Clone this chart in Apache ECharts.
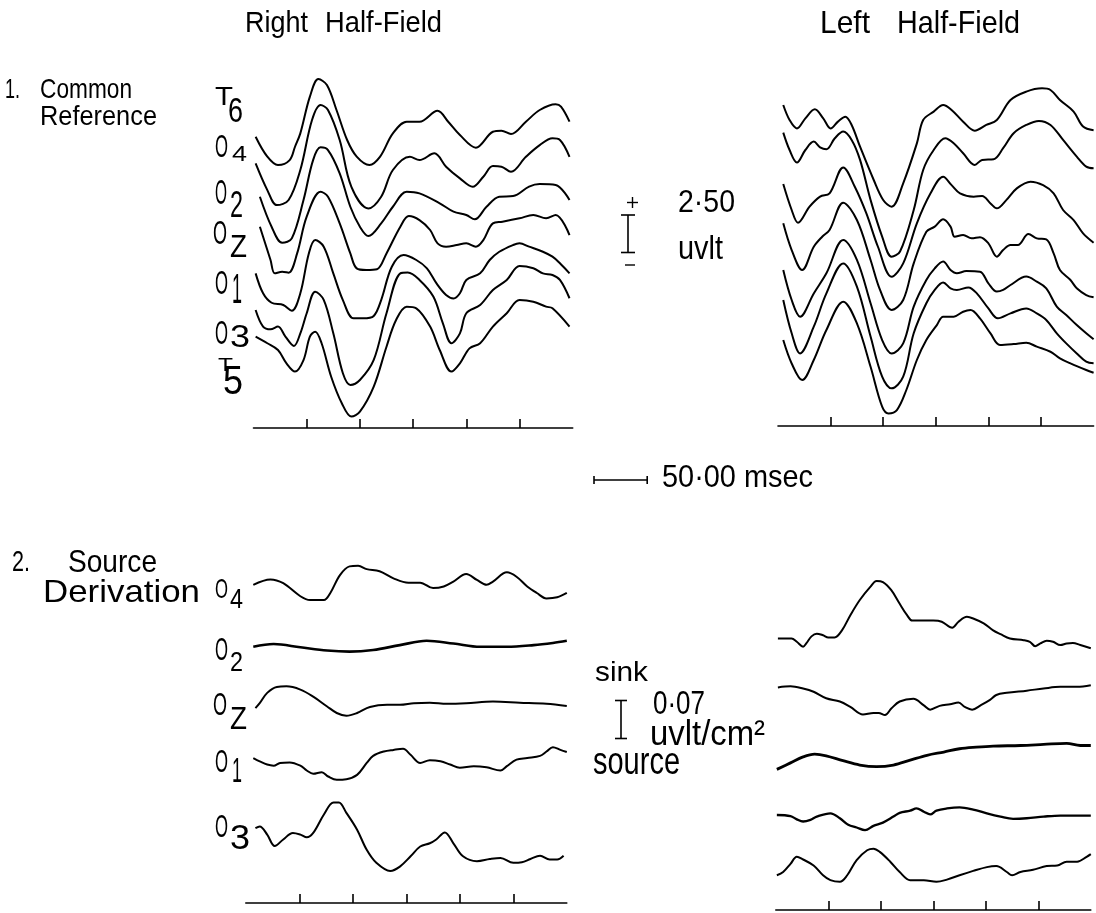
<!DOCTYPE html>
<html><head><meta charset="utf-8">
<script src="https://cdn.jsdelivr.net/npm/echarts@6/dist/echarts.min.js"></script>
<style>html,body{margin:0;padding:0;background:#fff}#c{width:1096px;height:913px}</style>
</head><body><div id="c"></div>
<script>
// ================= DATA =================
const tickTimesMs = [50, 100, 150, 200, 250];
const timeRangeMs = [0, 300];
const ampScaleUV = 2.5;        // µV scale bar
const timeScaleMs = 50;        // ms scale bar
const csdScale = 0.07;         // µV/cm² scale bar
const channelsCommon = ['T6', 'O4', 'O2', 'OZ', 'O1', 'O3', 'T5'];
const channelsSource = ['O4', 'O2', 'OZ', 'O1', 'O3'];

// Right half-field, common reference: [ms, µV]
const rC_T6 = [[2,0],[13,-1.33],[23,-1.89],[34,-1.56],[39,-0.67],[44,0.22],[53,2.67],[61,3.84],[69,3.44],[78,1.78],[88,-0.22],[97,-1.33],[109,-1.89],[119,-1.33],[131,0.22],[144,1.0],[156,1.0],[173,1.73],[183,1.0],[194,0.11],[209,-0.73],[225,0.33],[233,0.4],[242,0.18],[256,1.0],[269,1.78],[284,2.16],[289,2.0],[297,1.0]];
const rC_O4 = [[2,0],[13,-1.78],[22,-2.78],[33,-2.44],[44,-0.44],[55,2.89],[63,3.89],[70,3.56],[81,1.56],[92,-1.56],[108,-3.0],[120,-2.22],[131,-0.44],[147,0.44],[156,0.22],[170,0.67],[181,-0.22],[194,-1.0],[206,-1.56],[216,-0.89],[225,-0.18],[233,-0.22],[242,-0.56],[256,0.44],[269,1.22],[281,1.67],[288,1.56],[297,0.44]];
const rC_O2 = [[6,0],[17,-2.0],[27,-3.07],[36,-2.78],[47,-0.22],[56,2.44],[63,3.29],[70,3.11],[81,1.56],[91,-0.67],[100,-2.0],[108,-2.62],[120,-1.78],[131,-0.67],[144,0.33],[156,0.22],[175,-0.44],[188,-1.0],[200,-1.22],[208,-1.51],[219,-0.67],[231,0],[244,0.04],[259,0.67],[269,0.84],[284,0.78],[297,-0.22]];
const rC_OZ = [[6,0],[16,-2.22],[20,-3.11],[27,-3.0],[33,-3.07],[41,-1.78],[50,0.67],[63,2.33],[70,2.0],[81,0.22],[91,-1.78],[97,-2.78],[106,-2.89],[116,-2.84],[125,-1.78],[138,0],[146,0.71],[156,0.44],[166,-0.22],[173,-1.11],[181,-1.33],[191,-1.22],[200,-1.11],[209,-1.33],[216,-0.89],[225,0.22],[234,0.33],[250,0.56],[263,0.78],[275,0.56],[284,0.78],[297,-0.56]];
const rC_O1 = [[2,0],[9,-1.33],[17,-1.96],[28,-2.11],[36,-2.49],[44,-1.33],[52,1.33],[58,2.22],[66,1.78],[75,0],[84,-1.78],[94,-3.0],[103,-3.0],[113,-2.84],[120,-1.78],[130,0.44],[141,1.22],[153,0.89],[163,0.33],[172,-0.67],[181,-1.44],[188,-1.67],[194,-1.33],[200,-0.44],[213,0],[222,0.89],[231,1.44],[244,1.89],[250,2.0],[259,1.78],[272,1.44],[281,1.11],[288,0.67],[297,0]];
const rC_O3 = [[2,0],[9,-1.11],[16,-1.29],[23,-1.11],[30,-1.78],[38,-2.4],[44,-1.56],[50,-0.22],[58,1.22],[66,0.67],[75,-1.56],[84,-4.22],[91,-5.0],[100,-4.67],[113,-3.33],[125,-0.22],[138,2.44],[145,2.49],[156,2.0],[169,0.89],[178,-0.89],[186,-2.22],[194,-1.56],[200,-0.22],[213,0.33],[225,1.33],[238,2.0],[250,2.93],[263,2.78],[272,2.44],[281,2.33],[288,2.0],[297,0.78]];
const rC_T5 = [[2,0],[13,-0.44],[23,-0.89],[31,-1.78],[39,-2.33],[47,-1.56],[53,0],[58,0.33],[64,-0.44],[73,-2.67],[83,-4.44],[92,-5.33],[100,-5.0],[113,-3.33],[125,-0.67],[134,1.11],[144,2.0],[153,1.89],[166,0.67],[175,-0.89],[186,-2.33],[194,-1.78],[203,-0.78],[213,-0.44],[225,0.67],[238,1.56],[250,2.44],[263,2.33],[275,2.0],[281,1.89],[297,0.67]];

// Left half-field, common reference: [ms, µV] (same channel order)
const lC_T6 = [[5,0],[11,-1.0],[18,-1.56],[26,-0.89],[35,-0.29],[43,-0.89],[50,-1.56],[57,-1.11],[64,-0.78],[70,-1.33],[78,-2.78],[91,-5.0],[100,-6.33],[108,-6.78],[119,-5.22],[132,-2.56],[138,-1.0],[148,-0.44],[157,0],[165,-0.33],[176,-1.11],[187,-1.71],[198,-1.33],[208,-1.0],[221,0.33],[236,0.89],[251,1.11],[259,1.0],[268,0.33],[281,-0.44],[290,-1.44],[300,-1.69]];
const lC_O4 = [[5,0],[11,-1.16],[18,-2.0],[26,-1.16],[34,-0.6],[40,-0.98],[46,-1.11],[54,-0.38],[62,0.07],[70,-0.49],[78,-1.82],[88,-4.49],[99,-6.93],[108,-8.27],[116,-7.93],[129,-5.16],[138,-2.49],[148,-1.16],[159,-0.38],[167,-0.71],[176,-1.38],[187,-2.16],[194,-1.82],[205,-1.78],[214,-1.04],[224,-0.04],[236,0.51],[248,0.78],[259,0.51],[271,-0.49],[284,-1.6],[293,-2.27],[300,-2.38]];
const lC_O2 = [[5,0],[13,-1.73],[19,-2.58],[30,-1.51],[40,-0.84],[49,-0.62],[62,1.11],[73,-0.18],[84,-1.96],[95,-4.18],[108,-6.18],[119,-5.29],[132,-2.62],[145,-0.62],[157,0.49],[165,-0.07],[173,-0.62],[186,-0.84],[194,-0.8],[202,-1.29],[208,-1.62],[217,-1.07],[227,-0.29],[240,0.16],[252,-0.07],[262,-0.62],[271,-1.73],[281,-2.4],[290,-3.29],[300,-3.91]];
const lC_OZ = [[5,0],[13,-1.78],[23,-3.11],[34,-1.56],[42,-0.89],[49,-0.44],[62,1.38],[75,0.22],[88,-2.44],[97,-4.44],[108,-5.78],[119,-5.11],[129,-2.67],[141,-0.56],[149,-0.22],[157,0.27],[164,-0.22],[168,-0.89],[176,-0.78],[184,-1.0],[192,-0.93],[200,-1.33],[208,-2.22],[214,-1.78],[221,-1.44],[228,-1.44],[238,-0.71],[246,-1.0],[255,-1.07],[262,-2.0],[268,-3.11],[278,-3.78],[284,-4.33],[293,-4.78],[300,-4.93]];
const lC_O1 = [[5,0],[13,-2.0],[21,-3.11],[34,-1.56],[46,-0.22],[62,2.0],[75,0.67],[88,-2.22],[99,-4.67],[108,-5.56],[119,-4.89],[129,-2.44],[141,-0.67],[149,0.11],[157,0.56],[164,0],[170,-0.22],[179,-0.07],[192,-0.11],[200,-0.89],[208,-1.44],[214,-1.33],[221,-1.0],[236,-0.44],[246,-0.78],[255,-1.22],[265,-2.44],[274,-3.0],[284,-3.67],[293,-4.22],[300,-4.62]];
const lC_O3 = [[5,0],[13,-2.22],[21,-3.56],[34,-1.78],[46,0.44],[62,2.44],[75,0.89],[88,-2.44],[99,-5.11],[108,-5.89],[119,-5.11],[129,-2.22],[141,-0.22],[149,0.67],[157,1.16],[164,0.78],[170,0.67],[181,0.84],[189,0.44],[200,-0.56],[209,-1.22],[221,-0.89],[236,-0.56],[246,-0.89],[255,-1.33],[265,-2.22],[274,-2.89],[284,-3.56],[293,-4.11],[300,-4.22]];
const lC_T5 = [[5,0],[13,-1.56],[23,-2.67],[34,-1.33],[46,0.67],[62,2.56],[75,1.11],[88,-1.78],[99,-4.44],[105,-4.89],[113,-4.67],[122,-3.33],[132,-1.33],[141,0],[151,1.0],[157,1.56],[167,1.56],[176,1.89],[183,2.0],[192,1.44],[202,0.44],[211,-0.33],[224,-0.27],[236,-0.18],[246,-0.44],[259,-0.78],[268,-1.22],[278,-1.56],[293,-2.0],[300,-2.18]];

// Right half-field, source derivation: [ms, µV/cm²]
const rS_O4 = [[7,0],[23,0.010],[35,0.003],[51,-0.021],[60,-0.028],[73,-0.028],[79,-0.015],[88,0.018],[97,0.034],[105,0.035],[113,0.029],[125,0.025],[138,0.012],[152,0.004],[163,0.004],[175,-0.006],[185,-0.003],[194,0.006],[206,0.020],[216,0.009],[225,0],[231,0.006],[244,0.023],[253,0.015],[263,-0.003],[272,-0.015],[281,-0.025],[291,-0.023],[300,-0.015]];
const rS_O2 = [[7,0],[26,0.005],[51,-0.001],[76,-0.007],[97,-0.009],[119,-0.006],[144,0.003],[169,0.011],[194,0.006],[219,0],[244,0],[269,0.003],[287,0.007],[300,0.011]];
const rS_OZ = [[9,0],[13,0.009],[20,0.028],[29,0.039],[38,0.040],[51,0.034],[63,0.021],[76,0.003],[85,-0.009],[94,-0.014],[104,-0.009],[116,0.002],[132,0.006],[144,0.006],[157,0.009],[172,0.010],[188,0.008],[206,0.009],[231,0.012],[256,0.010],[281,0.008],[300,0.004]];
const rS_O1 = [[7,0],[13,-0.006],[20,-0.012],[26,-0.014],[32,-0.009],[41,-0.008],[51,-0.014],[57,-0.023],[63,-0.029],[71,-0.026],[77,-0.034],[85,-0.040],[94,-0.039],[104,-0.031],[113,-0.009],[119,0.004],[129,0.012],[138,0.015],[147,0.017],[154,0.006],[163,-0.009],[172,-0.004],[182,-0.006],[191,-0.012],[200,-0.018],[213,-0.015],[225,-0.017],[238,-0.023],[244,-0.015],[253,-0.003],[263,0],[275,0.004],[281,0.012],[287,0.020],[294,0.015],[300,0.011]];
const rS_O3 = [[9,0],[13,0.003],[20,-0.012],[27,-0.033],[35,-0.021],[44,-0.009],[51,-0.012],[57,-0.017],[63,-0.009],[73,0.025],[82,0.047],[87,0.047],[94,0.028],[104,-0.003],[113,-0.040],[122,-0.064],[135,-0.079],[144,-0.071],[154,-0.052],[163,-0.034],[172,-0.028],[178,-0.021],[186,-0.008],[194,-0.028],[203,-0.052],[216,-0.061],[228,-0.057],[238,-0.055],[250,-0.064],[258,-0.063],[266,-0.057],[275,-0.051],[284,-0.058],[291,-0.058],[297,-0.051]];

// Left half-field, source derivation: [ms, µV/cm²]
const lS_O4 = [[2,0],[15,0],[20,-0.006],[26,-0.015],[29,-0.009],[34,0.004],[39,0.009],[45,0.006],[50,0.002],[56,0.002],[63,0.015],[71,0.043],[80,0.071],[90,0.095],[96,0.106],[102,0.104],[110,0.089],[118,0.064],[125,0.043],[130,0.033],[141,0.033],[150,0.033],[158,0.031],[168,0.020],[174,0.031],[182,0.040],[188,0.037],[198,0.028],[207,0.015],[214,0.008],[223,0],[236,-0.003],[242,-0.006],[247,-0.014],[252,-0.009],[258,-0.004],[264,-0.006],[271,-0.012],[277,-0.009],[283,-0.008],[290,-0.012],[300,-0.018]];
const lS_O2 = [[2,0],[14,0.002],[26,-0.002],[36,-0.008],[48,-0.020],[61,-0.026],[71,-0.036],[83,-0.050],[93,-0.047],[98,-0.047],[104,-0.051],[110,-0.039],[118,-0.026],[131,-0.021],[141,-0.033],[147,-0.041],[156,-0.034],[166,-0.031],[174,-0.028],[180,-0.036],[187,-0.041],[195,-0.033],[204,-0.023],[210,-0.014],[220,-0.010],[239,-0.006],[255,-0.002],[271,0.001],[287,0.001],[300,0.004]];
const lS_OZ = [[1,-0.023],[14,-0.011],[26,0],[37,0.005],[48,0.002],[64,-0.007],[80,-0.015],[96,-0.018],[112,-0.015],[128,-0.006],[144,0.003],[160,0.009],[175,0.015],[191,0.018],[207,0.020],[233,0.021],[255,0.023],[277,0.025],[290,0.021],[300,0.021]];
const lS_O1 = [[1,0],[14,-0.002],[20,-0.008],[26,-0.012],[33,-0.009],[39,-0.003],[52,0.003],[61,-0.006],[69,-0.018],[77,-0.023],[85,-0.028],[93,-0.020],[102,-0.014],[112,-0.003],[118,0.004],[128,0.008],[134,0.012],[141,0.006],[147,0.001],[153,0.008],[163,0.012],[175,0.014],[188,0.010],[201,0.003],[214,-0.003],[226,-0.007],[239,-0.006],[255,-0.003],[271,-0.001],[300,-0.001]];
const lS_O3 = [[1,0],[7,0.006],[14,0.021],[20,0.034],[26,0.029],[36,0.018],[45,0],[52,-0.009],[61,-0.012],[68,0],[77,0.028],[87,0.046],[93,0.049],[99,0.043],[109,0.025],[118,0.006],[128,-0.009],[141,-0.009],[153,-0.012],[163,-0.008],[175,0],[188,0.008],[201,0.015],[210,0.017],[220,0.006],[225,0],[233,0.006],[245,0.010],[258,0.017],[268,0.018],[277,0.025],[287,0.025],[296,0.034],[300,0.039]];

// ================= LAYOUT (display stacking / geometry) =================
const stackRC = [19.42, 17.64, 15.42, 13.42, 10.31, 7.87, 6.09];
const stackLC = [21.4, 19.56, 16.13, 13.51, 10.4, 8.4, 5.73];
const stackRS = [0.586, 0.472, 0.359, 0.267, 0.138];
const stackLS = [0.500, 0.410, 0.282, 0.175, 0.064];
const yMaxCommon = 25, yMaxSource = 0.65;

const grids = [
  {left: 253.5, top: 53, width: 319.2, height: 375},
  {left: 778, top: 51, width: 315.6, height: 375},
  {left: 245.8, top: 550.1, width: 321, height: 352.9},
  {left: 775.8, top: 557.1, width: 315, height: 352.9}
];

const FONT = '"Liberation Sans", Arial, sans-serif';
const INK = '#000';

function xAxisFor(i) {
  return {
    type: 'value', gridIndex: i, min: timeRangeMs[0], max: timeRangeMs[1],
    axisLine: {show: true, onZero: false, lineStyle: {color: INK, width: 1.6}},
    axisTick: {show: true, inside: true, length: 9, customValues: tickTimesMs, lineStyle: {color: INK, width: 1.6}},
    axisLabel: {show: false}, splitLine: {show: false}
  };
}
function yAxisFor(i, max) {
  return {type: 'value', gridIndex: i, min: 0, max: max, show: false, splitLine: {show: false}};
}
function traces(list, offsets, idx, widths) {
  return list.map((d, i) => ({
    type: 'line', xAxisIndex: idx, yAxisIndex: idx,
    data: d.map(p => [p[0], p[1] + offsets[i]]),
    showSymbol: false, symbol: 'none', smooth: 0.35, silent: true, clip: false,
    lineStyle: {color: INK, width: widths ? widths[i] : 2}
  }));
}

const series = [].concat(
  traces([rC_T6, rC_O4, rC_O2, rC_OZ, rC_O1, rC_O3, rC_T5], stackRC, 0),
  traces([lC_T6, lC_O4, lC_O2, lC_OZ, lC_O1, lC_O3, lC_T5], stackLC, 1),
  traces([rS_O4, rS_O2, rS_OZ, rS_O1, rS_O3], stackRS, 2, [2, 2.6, 2, 2, 2]),
  traces([lS_O4, lS_O2, lS_OZ, lS_O1, lS_O3], stackLS, 3, [2, 2, 2.8, 2.3, 2])
);

const chart = echarts.init(document.getElementById('c'), null, {renderer: 'canvas'});
chart.setOption({
  animation: false,
  backgroundColor: '#fff',
  grid: grids,
  xAxis: [0, 1, 2, 3].map(xAxisFor),
  yAxis: [yAxisFor(0, yMaxCommon), yAxisFor(1, yMaxCommon), yAxisFor(2, yMaxSource), yAxisFor(3, yMaxSource)],
  series: series
});

// ---------- text helpers ----------
const mctx = document.createElement('canvas').getContext('2d');
function boxText(str, x1, y1, x2, y2, xh) {
  const h = y2 - y1;
  const S = xh ? h / 0.52 : h / 0.72;
  mctx.font = S + 'px ' + FONT;
  const w = mctx.measureText(str).width;
  const cy = (y1 + y2) / 2 - (xh ? 0.0865 * S : 0);
  return {
    type: 'text', x: x1, y: cy, scaleX: (x2 - x1) / w, scaleY: 1, silent: true,
    style: {text: str, font: S + 'px ' + FONT, fontSize: S, fontFamily: FONT, fill: INK,
      textAlign: 'left', textVerticalAlign: 'middle', align: 'left', verticalAlign: 'middle'}
  };
}
function seg(x1, y1, x2, y2, w) {
  return {type: 'line', silent: true, shape: {x1, y1, x2, y2}, style: {stroke: INK, lineWidth: w || 1.6}};
}

// channel label glyph boxes (main glyph, subscript glyph)
const labelBoxesRC = [
  [[215,88,233,107],[228,100,243,125]],
  [[215,138,228,160],[232,147,247,163]],
  [[215,182,227,207],[230,193,243,220]],
  [[213,223,227,247],[230,237,247,260]],
  [[215,273,228,297],[232,277,242,307]],
  [[215,323,228,347],[230,327,250,350]],
  [[218,360,233,373],[223,368,243,397]]
];
const labelBoxesRS = [
  [[215,580,228,600],[230,590,243,610]],
  [[215,640,228,663],[230,653,243,673]],
  [[213,695,227,718],[230,710,247,732]],
  [[215,752,228,775],[232,760,242,785]],
  [[215,817,228,840],[230,827,250,852]]
];

const g = [];
function addLabels(names, boxes) {
  names.forEach((n, i) => {
    const a = boxes[i][0], b = boxes[i][1];
    g.push(boxText(n[0], a[0], a[1], a[2], a[3]));
    g.push(boxText(n.slice(1), b[0], b[1], b[2], b[3]));
  });
}
addLabels(channelsCommon, labelBoxesRC);
addLabels(channelsSource, labelBoxesRS);

g.push(boxText('Right', 245, 13, 308, 34));
g.push(boxText('Half-Field', 325, 13, 442, 34));
g.push(boxText('Left', 820, 14, 870, 36));
g.push(boxText('Half-Field', 897, 14, 1020, 36));
g.push(boxText('1.', 5, 80, 20, 100));
g.push(boxText('Common', 40, 80, 132, 100));
g.push(boxText('Reference', 40, 107, 157, 127));
g.push(boxText('2.', 12, 552, 30, 573));
g.push(boxText('Source', 68, 552, 157, 575));
g.push(boxText('Derivation', 43, 582, 200, 605));

const fmt = v => v.toFixed(2).replace('.', '·');
g.push(boxText(fmt(ampScaleUV), 678, 192, 735, 215));
g.push(boxText('uvlt', 678, 238, 723, 262));
g.push(boxText(fmt(timeScaleMs) + ' msec', 662, 468, 813, 490));
g.push(boxText('sink', 595, 663, 648, 683));
g.push(boxText(fmt(csdScale), 653, 693, 705, 717));
g.push(boxText('uvlt/cm²', 650, 723, 765, 748));
g.push(boxText('source', 593, 757, 680, 777, true));

// scale bars computed through the axes' scales
const p0 = chart.convertToPixel({gridIndex: 0}, [0, 0]);
const p1 = chart.convertToPixel({gridIndex: 0}, [timeScaleMs, ampScaleUV]);
const ampPx = p0[1] - p1[1];
const timePx = p1[0] - p0[0];
const q0 = chart.convertToPixel({gridIndex: 2}, [0, 0]);
const q1 = chart.convertToPixel({gridIndex: 2}, [0, csdScale]);
const csdPx = q0[1] - q1[1];

// amplitude bar (µV)
const ax = 628, ay = 215;
g.push(seg(ax, ay, ax, ay + ampPx));
g.push(seg(ax - 7, ay, ax + 7, ay));
g.push(seg(ax - 7, ay + ampPx, ax + 7, ay + ampPx));
g.push(seg(627, 202.5, 638, 202.5, 1.4));
g.push(seg(632.5, 197, 632.5, 208, 1.4));
g.push(seg(625, 265, 635, 265, 1.4));
// time bar
const tx = 594, ty = 480;
g.push(seg(tx, ty, tx + timePx, ty));
g.push(seg(tx, ty - 4, tx, ty + 4));
g.push(seg(tx + timePx, ty - 4, tx + timePx, ty + 4));
// CSD bar
const sx = 621, sy = 700.5;
g.push(seg(sx, sy, sx, sy + csdPx));
g.push(seg(sx - 6, sy, sx + 6, sy));
g.push(seg(sx - 6, sy + csdPx, sx + 6, sy + csdPx));

chart.setOption({graphic: {elements: g}});
</script>
</body></html>
